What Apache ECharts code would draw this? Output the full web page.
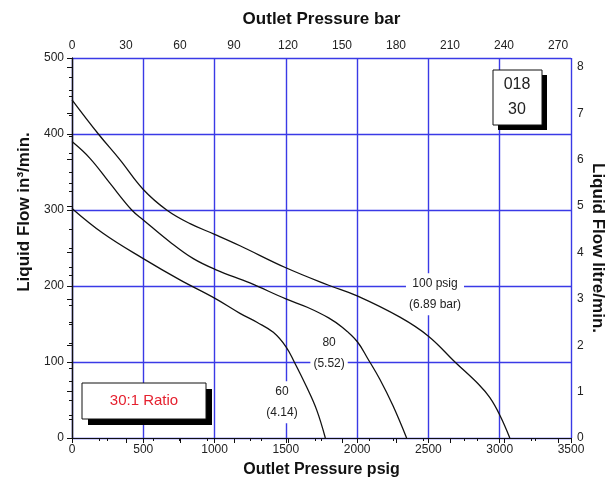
<!DOCTYPE html>
<html>
<head>
<meta charset="utf-8">
<script src="https://cdn.jsdelivr.net/npm/echarts@6/dist/echarts.min.js"></script>
<style>
html,body{margin:0;padding:0;background:#fff;overflow:hidden;}
#chart{width:606px;height:478px;}
</style>
</head>
<body>
<div id="chart"></div>
<script>
// ---- data ----
var psigTicks = [0, 500, 1000, 1500, 2000, 2500, 3000, 3500];
var barTicks = [0, 30, 60, 90, 120, 150, 180, 210, 240, 270];
var flowTicks = [0, 100, 200, 300, 400, 500];
var litreTicks = [0, 1, 2, 3, 4, 5, 6, 7, 8];

var psig100 = [0, 185, 337, 500, 664, 828, 1000, 1178, 1500, 1800, 2000, 2300, 2500, 2686, 2850, 2931, 3001, 3071];
var flow100 = [445, 400, 366, 327, 300, 282, 268, 253, 224, 201, 187, 159, 134, 100, 71, 53, 30, 0];

var psig80 = [0, 126, 267, 419, 500, 687, 851, 1015, 1248, 1500, 1650, 1800, 1900, 2000, 2076, 2160, 2250, 2347];
var flow80 = [390, 368, 335, 300, 287, 258, 236, 221, 204, 183, 172, 158, 145, 127, 104, 77, 43, 0];

var psig60 = [0, 220, 500, 757, 1000, 1178, 1300, 1412, 1501, 1559, 1646, 1716, 1777];
var flow60 = [302, 269, 236, 208, 184, 164, 152, 139, 120, 100, 67, 37, 0];

var curveLabels = [
  {name: '100 psig', text: '100 psig\n(6.89 bar)', at: [2546, 189]},
  {name: '80', text: '80\n(5.52)', at: [1803, 111]},
  {name: '60', text: '60\n(4.14)', at: [1473, 47]}
];
var boxTop = ['018', '30'];
var boxRatio = '30:1 Ratio';

// ---- chart ----
var FONT = 'Liberation Sans, Arial, Helvetica, sans-serif';
var BLUE = '#3a3ae6';
var chart = echarts.init(document.getElementById('chart'), null, {renderer: 'canvas'});

function pairs(xs, ys) { return xs.map(function (x, i) { return [x, ys[i]]; }); }

var psigMax = psigTicks[psigTicks.length - 1];
var flowMax = flowTicks[flowTicks.length - 1];
var barMax = 277.2;
var litreMax = flowMax * 0.016387;

function lineSeries(idx, data) {
  var lb = curveLabels[idx];
  return {
    type: 'line', name: lb.name, xAxisIndex: 0, yAxisIndex: 0,
    data: data, showSymbol: false, symbol: 'none',
    smooth: 0.4, clip: true,
    lineStyle: {color: '#111', width: 1.3},
    z: 3,
    markPoint: {
      symbol: 'rect', symbolSize: 0, silent: true,
      data: [{coord: lb.at, value: lb.text}],
      label: {
        show: true, position: 'inside', formatter: lb.text,
        fontFamily: FONT, fontSize: 12, color: '#222', lineHeight: 21,
        backgroundColor: '#fff', padding: [0, 3], align: 'center'
      }
    }
  };
}

var option = {
  backgroundColor: '#fff',
  animation: false,
  grid: {left: 72, right: 35, top: 58, bottom: 40, containLabel: false, outerBoundsMode: 'none'},
  xAxis: [
    {
      type: 'value', position: 'bottom', min: 0, max: psigMax, interval: 500,
      name: 'Outlet Pressure psig', nameLocation: 'middle', nameGap: 24,
      nameTextStyle: {fontFamily: FONT, fontSize: 16, fontWeight: 'bold', color: '#111'},
      axisLine: {show: true, lineStyle: {color: '#111', width: 1.2}},
      axisTick: {show: true, inside: false, length: 5, lineStyle: {color: '#111'}},
      minorTick: {show: true, splitNumber: 2, length: 3, lineStyle: {color: '#111'}},
      axisLabel: {fontFamily: FONT, fontSize: 12, color: '#222', margin: 6,
        formatter: function (v) { return String(v); }},
      splitLine: {show: true, lineStyle: {color: BLUE, width: 1.4}}
    },
    {
      type: 'value', position: 'top', min: 0, max: barMax, interval: 30,
      name: 'Outlet Pressure bar', nameLocation: 'middle', nameGap: 30,
      nameTextStyle: {fontFamily: FONT, fontSize: 17, fontWeight: 'bold', color: '#111'},
      axisLine: {show: true, lineStyle: {color: '#111', width: 1.2}},
      axisTick: {show: true, inside: true, length: 5, lineStyle: {color: '#111'}},
      minorTick: {show: true, splitNumber: 2, length: 3, lineStyle: {color: '#111'}},
      axisLabel: {fontFamily: FONT, fontSize: 12, color: '#222', margin: 6,
        formatter: function (v) { return barTicks.indexOf(Math.round(v)) >= 0 && Math.abs(v - Math.round(v)) < 1e-6 ? String(Math.round(v)) : ''; }},
      splitLine: {show: false}
    }
  ],
  yAxis: [
    {
      type: 'value', position: 'left', min: 0, max: flowMax, interval: 100,
      name: 'Liquid Flow in\u00B3/min.', nameLocation: 'middle', nameGap: 33,
      nameTextStyle: {fontFamily: FONT, fontSize: 17, fontWeight: 'bold', color: '#111', padding: [0, 0, 0, 72]},
      axisLine: {show: true, lineStyle: {color: '#111', width: 1.2}},
      axisTick: {show: true, inside: false, length: 5, lineStyle: {color: '#111'}},
      minorTick: {show: true, splitNumber: 4, length: 3, lineStyle: {color: '#111'}},
      axisLabel: {fontFamily: FONT, fontSize: 12, color: '#222', margin: 8},
      splitLine: {show: true, lineStyle: {color: BLUE, width: 1.4}}
    },
    {
      type: 'value', position: 'right', min: 0, max: litreMax, interval: 1,
      name: 'Liquid Flow litre/min.', nameLocation: 'middle', nameGap: 18, nameRotate: -90,
      nameMoveOverlap: false,
      nameTextStyle: {fontFamily: FONT, fontSize: 17, fontWeight: 'bold', color: '#111'},
      axisLine: {show: true, lineStyle: {color: '#111', width: 1.2}},
      axisTick: {show: true, inside: true, length: 5, lineStyle: {color: '#111'}},
      minorTick: {show: true, splitNumber: 2, length: 3, lineStyle: {color: '#111'}},
      axisLabel: {fontFamily: FONT, fontSize: 12, color: '#222', margin: 6,
        formatter: function (v) { return litreTicks.indexOf(v) >= 0 ? String(v) : ''; }},
      splitLine: {show: false}
    }
  ],
  series: [
    lineSeries(0, pairs(psig100, flow100)),
    lineSeries(1, pairs(psig80, flow80)),
    lineSeries(2, pairs(psig60, flow60))
  ],
  graphic: [
    {type: 'rect', x: 498, y: 75, z: 10, shape: {x: 0, y: 0, width: 49, height: 55}, style: {fill: '#000'}},
    {type: 'rect', x: 493, y: 70, z: 11, shape: {x: 0, y: 0, width: 49, height: 55}, style: {fill: '#fff', stroke: '#111', lineWidth: 1}},
    {type: 'text', x: 517, y: 85, z: 12, style: {text: boxTop[0], fontFamily: FONT, fontSize: 16, fill: '#222', align: 'center', verticalAlign: 'middle'}},
    {type: 'text', x: 517, y: 110, z: 12, style: {text: boxTop[1], fontFamily: FONT, fontSize: 16, fill: '#222', align: 'center', verticalAlign: 'middle'}},
    {type: 'rect', x: 88, y: 389, z: 10, shape: {x: 0, y: 0, width: 124, height: 36}, style: {fill: '#000'}},
    {type: 'rect', x: 82, y: 383, z: 11, shape: {x: 0, y: 0, width: 124, height: 36}, style: {fill: '#fff', stroke: '#111', lineWidth: 1}},
    {type: 'text', x: 144, y: 401, z: 12, style: {text: boxRatio, fontFamily: FONT, fontSize: 15, fill: '#e5202e', align: 'center', verticalAlign: 'middle'}}
  ]
};
chart.setOption(option);
</script>
</body>
</html>
